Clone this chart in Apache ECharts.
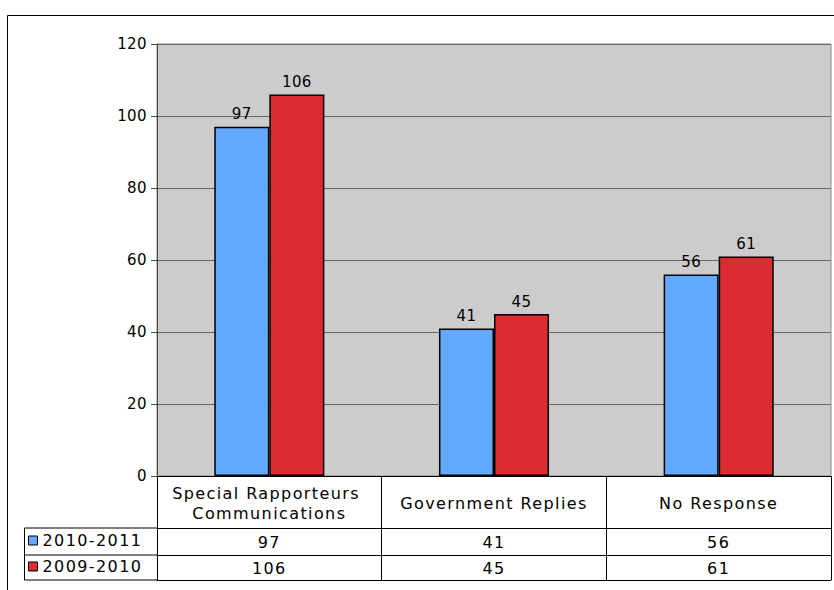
<!DOCTYPE html>
<html>
<head>
<meta charset="utf-8">
<script src="https://cdn.jsdelivr.net/npm/echarts@6/dist/echarts.min.js"></script>
<style>
  html, body { margin: 0; padding: 0; background: #fff; }
  #chart { width: 834px; height: 590px; }
  #chart text[style*="16px"] { letter-spacing: 1.4px; }
  #chart text[style*="15px"] { letter-spacing: 0.4px; }
</style>
</head>
<body>
<div id="chart"></div>
<script>
// ---- data ----
const categories = ['Special Rapporteurs Communications', 'Government Replies', 'No Response'];
const seriesNames = ['2010-2011', '2009-2010'];
const values2010_2011 = [97, 41, 56];
const values2009_2010 = [106, 45, 61];
const yMin = 0, yMax = 120, yStep = 20;

// ---- layout ----
const FONT = 'DejaVu Sans';
const plotLeft = 157, plotTop = 44, plotRight = 831, plotBottom = 476;
const headerH = 52, row1H = 27, row2H = 25;
const W = 834, H = 590;
const colors = ['#63a9ff', '#dc2b31'];

const chart = echarts.init(document.getElementById('chart'), null, { renderer: 'svg', width: W, height: H });

const row1Top = plotBottom + headerH;
const row2Top = row1Top + row1H;
const tableBottom = row2Top + row2H;
const legendLeft = 24;

const baseX = {
  type: 'category',
  gridIndex: 0,
  position: 'bottom',
  boundaryGap: true,
  axisLine: { show: true, lineStyle: { color: '#000', width: 1 } },
  splitLine: { show: false }
};

const option = {
  animation: false,
  backgroundColor: '#fff',
  textStyle: { fontFamily: FONT },
  grid: {
    left: plotLeft, top: plotTop, right: W - plotRight, bottom: H - plotBottom,
    show: true, backgroundColor: '#cccccc', borderColor: '#888', borderWidth: 1,
    containLabel: false
  },
  legend: [
    {
      data: [seriesNames[0]], left: legendLeft + 4, top: row1Top + row1H / 2 - 9, padding: 0,
      icon: 'rect', itemWidth: 9, itemHeight: 9,
      itemStyle: { borderColor: '#000', borderWidth: 1 },
      textStyle: { fontSize: 16, color: '#000', fontFamily: FONT }
    },
    {
      data: [seriesNames[1]], left: legendLeft + 4, top: row2Top + row2H / 2 - 9, padding: 0,
      icon: 'rect', itemWidth: 9, itemHeight: 9,
      itemStyle: { borderColor: '#000', borderWidth: 1 },
      textStyle: { fontSize: 16, color: '#000', fontFamily: FONT }
    }
  ],
  xAxis: [
    Object.assign({}, baseX, {
      data: categories,
      axisTick: { show: true, length: headerH, interval: 0, lineStyle: { color: '#000' } },
      axisLabel: {
        interval: 0, fontSize: 16, color: '#000', fontFamily: FONT,
        verticalAlign: 'middle', margin: headerH / 2 + 1, lineHeight: 20,
        width: 205, overflow: 'break'
      }
    }),
    Object.assign({}, baseX, {
      offset: headerH,
      data: values2010_2011.map(String),
      axisTick: { show: true, length: row1H, interval: 0, lineStyle: { color: '#000' } },
      axisLabel: { interval: 0, fontSize: 16, color: '#000', fontFamily: FONT, verticalAlign: 'middle', margin: row1H / 2 + 0.5 }
    }),
    Object.assign({}, baseX, {
      offset: headerH + row1H,
      data: values2009_2010.map(String),
      axisTick: { show: true, length: row2H, interval: 0, lineStyle: { color: '#000' } },
      axisLabel: { interval: 0, fontSize: 16, color: '#000', fontFamily: FONT, verticalAlign: 'middle', margin: row2H / 2 + 0.5 }
    }),
    Object.assign({}, baseX, {
      offset: headerH + row1H + row2H,
      data: categories,
      axisTick: { show: false },
      axisLabel: { show: false }
    })
  ],
  yAxis: {
    type: 'value',
    min: yMin, max: yMax, interval: yStep,
    axisLine: { show: true, lineStyle: { color: '#444', width: 1 } },
    axisTick: { show: true, length: 6, lineStyle: { color: '#444' } },
    axisLabel: { fontSize: 15, color: '#000', fontFamily: FONT, margin: 10 },
    splitLine: { show: true, lineStyle: { color: '#666', width: 1 } }
  },
  series: [
    {
      name: seriesNames[0], type: 'bar', xAxisIndex: 0, data: values2010_2011,
      barGap: '0%', barCategoryGap: '51%',
      itemStyle: { color: colors[0], borderColor: '#000', borderWidth: 1.5 },
      label: { show: true, position: 'top', distance: 5, fontSize: 15, color: '#000', fontFamily: FONT }
    },
    {
      name: seriesNames[1], type: 'bar', xAxisIndex: 0, data: values2009_2010,
      barGap: '0%', barCategoryGap: '51%',
      itemStyle: { color: colors[1], borderColor: '#000', borderWidth: 1.5 },
      label: { show: true, position: 'top', distance: 5, fontSize: 15, color: '#000', fontFamily: FONT }
    }
  ],
  graphic: [
    {
      type: 'rect', silent: true, z: -10,
      shape: { x: 7.5, y: 15.5, width: W + 100, height: H + 100 },
      style: { fill: 'none', stroke: '#000', lineWidth: 1 }
    },
    {
      type: 'rect', silent: true,
      shape: { x: legendLeft + 0.5, y: row1Top, width: plotLeft - legendLeft, height: tableBottom - row1Top },
      style: { fill: 'none', stroke: '#000', lineWidth: 1 }
    },
    {
      type: 'line', silent: true,
      shape: { x1: legendLeft, y1: row2Top, x2: plotLeft, y2: row2Top },
      style: { stroke: '#000', lineWidth: 1 }
    }
  ]
};

chart.setOption(option);
</script>
</body>
</html>
